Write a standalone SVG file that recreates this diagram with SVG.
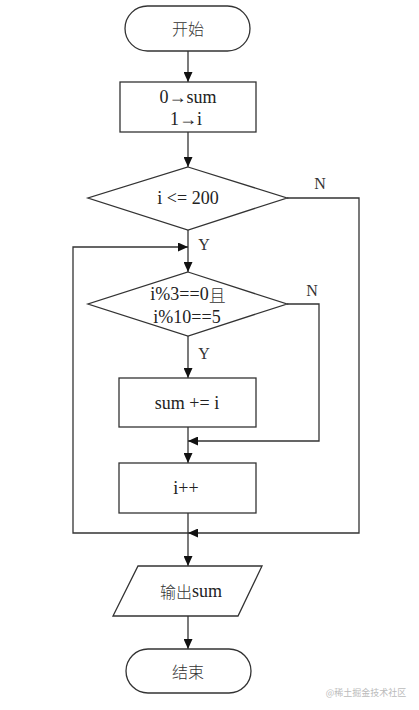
<svg xmlns="http://www.w3.org/2000/svg" width="419" height="710" viewBox="0 0 419 710">
<defs>
<marker id="ah" markerUnits="userSpaceOnUse" markerWidth="10" markerHeight="9" refX="10" refY="4.5" orient="auto">
<path d="M0,0 L10,4.5 L0,9 z" fill="#111"/>
</marker>
<style>
.s{fill:#fff;stroke:#333;stroke-width:1.3}
.c{fill:none;stroke:#333;stroke-width:1.3}
.t{font-family:"Liberation Serif","Noto Sans CJK SC",serif;font-size:18px;fill:#222;text-anchor:middle;dominant-baseline:central}
.z{font-family:"Noto Sans CJK SC",serif;font-size:16px;font-weight:300;fill:#333;text-anchor:middle;dominant-baseline:central}
.l{font-family:"Liberation Serif",serif;font-size:16px;fill:#333;text-anchor:middle;dominant-baseline:central}
</style>
</defs>
<rect width="419" height="710" fill="#fff"/>
<g id="connectors">
<path class="c" d="M188,51 V82" marker-end="url(#ah)"/>
<path class="c" d="M188,132 V167" marker-end="url(#ah)"/>
<path class="c" d="M188,230 V272" marker-end="url(#ah)"/>
<path class="c" d="M188,336 V378" marker-end="url(#ah)"/>
<path class="c" d="M188,427 V463" marker-end="url(#ah)"/>
<path class="c" d="M188,513 V566" marker-end="url(#ah)"/>
<path class="c" d="M188,616 V649" marker-end="url(#ah)"/>
<path class="c" d="M287,198 H359 V533 H188" marker-end="url(#ah)"/>
<path class="c" d="M287,304 H319 V441 H188" marker-end="url(#ah)"/>
<path class="c" d="M188,533 H73 V247 H188" marker-end="url(#ah)"/>
<text class="l" x="320" y="183">N</text>
<text class="l" x="204" y="244">Y</text>
<text class="l" x="312" y="290">N</text>
<text class="l" x="204" y="353">Y</text>
</g>
<g id="start">
<rect class="s" x="125" y="6" width="125" height="45" rx="22.5"/>
<text class="z" x="188" y="28">开始</text>
</g>
<g id="init">
<rect class="s" x="120" y="82" width="136" height="50"/>
<text class="t" x="188" y="97">0→sum</text>
<text class="t" x="186" y="119">1→i</text>
</g>
<g id="cond1">
<polygon class="s" points="188,167 287,198 188,230 88,198"/>
<text class="t" x="188" y="198">i &lt;= 200</text>
</g>
<g id="cond2">
<polygon class="s" points="188,272 287,304 188,336 88,304"/>
<text class="t" x="188" y="294">i%3==0<tspan class="z" style="font-size:17px">且</tspan></text>
<text class="t" x="187" y="317">i%10==5</text>
</g>
<g id="add">
<rect class="s" x="119" y="378" width="137" height="49"/>
<text class="t" x="187" y="403">sum += i</text>
</g>
<g id="inc">
<rect class="s" x="119" y="463" width="137" height="50"/>
<text class="t" x="186" y="488">i++</text>
</g>
<g id="output">
<polygon class="s" points="138,566 262,566 238,616 113,616"/>
<text class="t" x="191" y="591"><tspan class="z">输出</tspan>sum</text>
</g>
<g id="end">
<rect class="s" x="126" y="649" width="125" height="44" rx="22"/>
<text class="z" x="188" y="671">结束</text>
</g>
<text x="366" y="692" font-family="'Noto Sans CJK SC',sans-serif" font-size="9" fill="#bbb" text-anchor="middle" dominant-baseline="central">@稀土掘金技术社区</text>
</svg>
